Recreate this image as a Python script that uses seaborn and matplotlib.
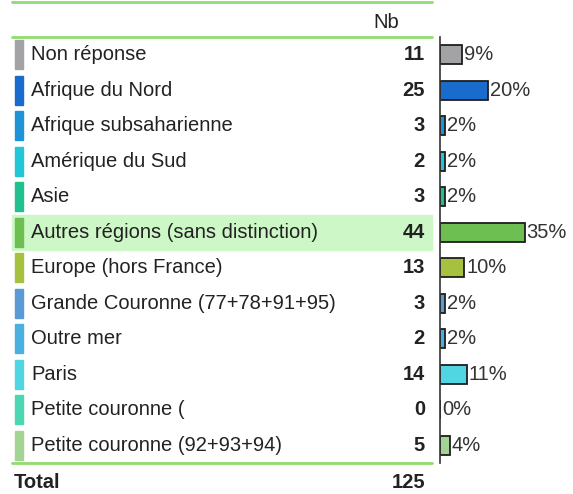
import matplotlib
matplotlib.use('Agg')
import matplotlib.pyplot as plt
import seaborn as sns
import pandas as pd
from matplotlib.patches import Rectangle

regions = ['Non réponse', 'Afrique du Nord', 'Afrique subsaharienne', 'Amérique du Sud',
           'Asie', 'Autres régions (sans distinction)', 'Europe (hors France)',
           'Grande Couronne (77+78+91+95)', 'Outre mer', 'Paris', 'Petite couronne (',
           'Petite couronne (92+93+94)']
counts = [11, 25, 3, 2, 3, 44, 13, 3, 2, 14, 0, 5]
pcts = [9, 20, 2, 2, 2, 35, 10, 2, 2, 11, 0, 4]
total = 125
colors = ['#a3a3a6', '#1a6ccc', '#1e93d8', '#22c6d6', '#22c08e', '#6cbf50',
          '#a6c040', '#5b9bd5', '#4ab0e0', '#4fd6e2', '#4cd6b2', '#a4d493']
highlight = 'Autres régions (sans distinction)'

df = pd.DataFrame({'region': regions, 'nb': counts, 'pct': pcts})

sns.set_theme(style='white')
plt.rcParams['font.family'] = ['Liberation Sans', 'DejaVu Sans']
FS = 14.5

W, H = 573, 494
fig = plt.figure(figsize=(W / 100, H / 100), dpi=100)
top_px, bot_px = 37, 463
ax_b = fig.add_axes([440 / W, 1 - bot_px / H, (W - 440) / W, (bot_px - top_px) / H])
ax_t = fig.add_axes([0, 1 - bot_px / H, 440 / W, (bot_px - top_px) / H])

# bars
sns.barplot(data=df, y='region', x='pct', hue='region', palette=colors, legend=False,
            orient='h', width=0.54, saturation=1, edgecolor='#1e1e1e', linewidth=1.3,
            ax=ax_b)
ax_b.set_xlim(0, 55)
ax_b.set_ylim(11.5, -0.5)
ax_b.set_xlabel('')
ax_b.set_ylabel('')
ax_b.set_xticks([])
ax_b.set_yticks([])
for s in ['top', 'right', 'bottom']:
    ax_b.spines[s].set_visible(False)
ax_b.spines['left'].set_color('#333333')
ax_b.spines['left'].set_linewidth(1.2)
for i, p in enumerate(pcts):
    ax_b.text(p + 0.8, i, f'{p}%', va='center', ha='left', fontsize=FS, color='#333333')

# table part
ax_t.set_xlim(0, 440)
ax_t.set_ylim(11.5, -0.5)
ax_t.axis('off')
txt = '#222222'
for i, (r, n) in enumerate(zip(regions, counts)):
    if r == highlight:
        ax_t.add_patch(Rectangle((12, i - 0.5), 420, 1.0, color='#cdf7c6', zorder=0))
    ax_t.add_patch(Rectangle((15, i - 0.41), 8, 0.82, color=colors[i], zorder=1))
    ax_t.text(31, i, r, va='center', ha='left', fontsize=FS, color=txt)
    ax_t.text(425, i, str(n), va='center', ha='right', fontsize=FS, color=txt,
              fontweight='bold')

green = '#8fdc70'
for y in [-1.49, -0.5, 11.5]:
    ax_t.plot([12, 432], [y, y], color=green, lw=2, clip_on=False)
ax_t.text(386, -0.92, 'Nb', va='center', ha='center', fontsize=FS, color=txt, clip_on=False)
ax_t.text(14, 12.06, 'Total', va='center', ha='left', fontsize=FS, color=txt,
          fontweight='bold', clip_on=False)
ax_t.text(425, 12.06, str(total), va='center', ha='right', fontsize=FS, color=txt,
          fontweight='bold', clip_on=False)

fig.savefig('out.png', dpi=100)
